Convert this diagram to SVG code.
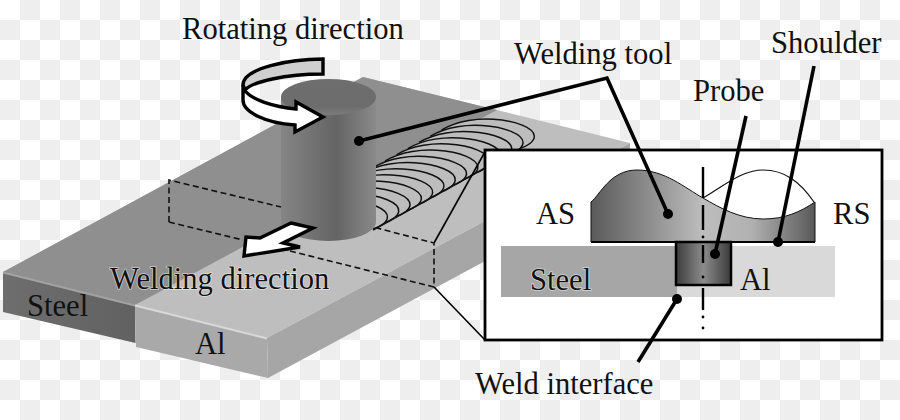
<svg xmlns="http://www.w3.org/2000/svg" width="900" height="420" viewBox="0 0 900 420">
  <defs>
    <pattern id="checker" width="40" height="40" patternUnits="userSpaceOnUse">
      <rect width="40" height="40" fill="#ffffff"/>
      <rect x="20" y="0" width="20" height="20" fill="#eeeeee"/>
      <rect x="0" y="20" width="20" height="20" fill="#eeeeee"/>
    </pattern>
    <linearGradient id="cylinderShade" x1="0" x2="1" y1="0" y2="0">
      <stop offset="0" stop-color="#858585"/>
      <stop offset="0.58" stop-color="#646464"/>
      <stop offset="1" stop-color="#8a8a8a"/>
    </linearGradient>
    <linearGradient id="capShade" x1="0" x2="0" y1="0" y2="1">
      <stop offset="0" stop-color="#6e6e6e"/>
      <stop offset="0.75" stop-color="#6c6c6c"/>
      <stop offset="1" stop-color="#7c7c7c"/>
    </linearGradient>
    <linearGradient id="shoulderShade" gradientUnits="userSpaceOnUse" x1="591" x2="815" y1="0" y2="0">
      <stop offset="0" stop-color="#5a5a5a"/>
      <stop offset="0.5" stop-color="#bdbdbd"/>
      <stop offset="0.72" stop-color="#b0b0b0"/>
      <stop offset="1" stop-color="#595959"/>
    </linearGradient>
    <linearGradient id="probeShade" x1="0" x2="1" y1="0" y2="0">
      <stop offset="0" stop-color="#3c3c3c"/>
      <stop offset="0.5" stop-color="#8c8c8c"/>
      <stop offset="1" stop-color="#3a3a3a"/>
    </linearGradient>
    <linearGradient id="steelFront" x1="0" x2="1" y1="0" y2="0">
      <stop offset="0" stop-color="#6e6e6e"/>
      <stop offset="1" stop-color="#616161"/>
    </linearGradient>
    <path id="bead" d="M441.7 130C458.3 120 480 118.3 493.3 119.3C516.7 120.7 535 128.3 534.3 136.7C534 141.7 526.7 146.7 520 148.3"/>
  </defs>
  <style>
    text { font-family: "Liberation Serif", "Times New Roman", serif; font-size: 30.6px; fill: #111111; }
    .halo { paint-order: stroke; stroke: #ffffff; stroke-opacity: 0.55; stroke-width: 1.6px; }
    .lead { fill: none; stroke: #000000; stroke-width: 3.6; stroke-linejoin: miter; }
    .thin { fill: none; stroke: #000000; stroke-width: 1.6; }
    .dash { fill: none; stroke: #111111; stroke-width: 1.6; stroke-dasharray: 6 3.5; }
    .dot { fill: #000000; }
    .arrow { fill: #ffffff; stroke: #000000; stroke-width: 3.4; stroke-linejoin: miter; }
    .bead { fill: #bdbdbd; stroke: #111111; stroke-width: 1.5; }
  </style>

  <rect width="900" height="420" fill="url(#checker)"/>

  <!-- Joined plates -->
  <g id="plate">
    <polygon points="3,272 363,77 630,143 267,338 135,305" fill="#bebebe"/>
    <polygon points="3,272 363,77 497,110 135,305" fill="#8f8f8f"/>
    <polygon points="267,338 630,143 630,183 268,378" fill="#a6a6a6"/>
    <polygon points="135,305 267,338 268,378 136,347" fill="#a9a9a9"/>
    <polygon points="3,272 135,305 135.500,343 3,312" fill="url(#steelFront)"/>
    <path d="M3 272.500L135 305.500" fill="none" stroke="#a2a2a2" stroke-width="2"/>
    <path d="M135 305.500L267 338.500" fill="none" stroke="#d8d8d8" stroke-width="2"/>
  </g>

  <!-- Weld bead ripples, drawn from the far end towards the tool -->
  <g id="weld">
    <use href="#bead" class="bead"/>
    <use href="#bead" class="bead" transform="translate(-11.3 6.2)"/>
    <use href="#bead" class="bead" transform="translate(-22.6 12.4)"/>
    <use href="#bead" class="bead" transform="translate(-33.9 18.600)"/>
    <use href="#bead" class="bead" transform="translate(-45.2 24.8)"/>
    <use href="#bead" class="bead" transform="translate(-56.5 31)"/>
    <use href="#bead" class="bead" transform="translate(-67.8 37.2)"/>
    <use href="#bead" class="bead" transform="translate(-79.1 43.4)"/>
    <use href="#bead" class="bead" transform="translate(-90.4 49.6)"/>
    <use href="#bead" class="bead" transform="translate(-101.7 55.8)"/>
    <use href="#bead" class="bead" transform="translate(-113 62)"/>
    <use href="#bead" class="bead" transform="translate(-124.3 68.2)"/>
    <use href="#bead" class="bead" transform="translate(-135.6 74.4)"/>
    <use href="#bead" class="bead" transform="translate(-146.900 80.6)"/>
    <path d="M373 230L485 168" fill="none" stroke="#111111" stroke-width="1.5"/>
  </g>

  <!-- Cut plane through the weld -->
  <g id="section-plane">
    <path class="dash" d="M169 222V180L281 207"/>
    <path class="dash" d="M169 222L243 240M290 251L434 287V243L377 228"/>
  </g>

  <!-- Rotating tool -->
  <g id="tool">
    <path d="M281 97V222A47.500 19 0 0 0 376 222V97Z" fill="url(#cylinderShade)"/>
    <ellipse cx="328.500" cy="97" rx="47.500" ry="18" fill="url(#capShade)"/>
  </g>

  <g id="rotation-arrow">
    <path class="arrow" d="M244 89C250 100 275 107 296 109V102L323 117L295 132V125C265 123 243 112 243 100V85Z"/>
    <path class="arrow" style="fill:#cfcfcf" d="M323 59C290 59 243 68 243 85L245 90C252 82 285 74 323 74Z"/>
  </g>

  <g id="welding-arrow">
    <polygon class="arrow" points="291,223 313,228 283,243 300,247 244,256 246,237 260,238"/>
  </g>

  <!-- Enlarged cross-section -->
  <g id="inset">
    <rect x="485" y="150" width="397" height="190" fill="#ffffff" stroke="#000000" stroke-width="2.800"/>
    <rect x="501" y="246" width="176" height="51" fill="#a6a6a6"/>
    <rect x="677" y="246" width="158" height="51" fill="#d9d9d9"/>
    <path d="M703 198C725 185 742 170 763 170C785 170 800 182 814 202" fill="#ffffff" stroke="#111111" stroke-width="1.2"/>
    <path d="M591 242V202C600 195 610 170 637 170C665 170 685 188 703 198C720 208 740 219 763 219C785 219 800 212 815 202V242Z" fill="url(#shoulderShade)" stroke="#111111" stroke-width="1"/>
    <path d="M591 242H815" stroke="#000000" stroke-width="2" fill="none"/>
    <rect x="676" y="242" width="55" height="43" fill="url(#probeShade)" stroke="#000000" stroke-width="2.500"/>
    <path d="M703 167V198M703 205V230M703 245V263M703 288V310" stroke="#000000" stroke-width="2.400" fill="none"/>
    <circle class="dot" cx="703" cy="237" r="1.400"/>
    <circle class="dot" cx="703" cy="277" r="1.400"/>
    <circle class="dot" cx="703" cy="317" r="1.400"/>
    <circle class="dot" cx="703" cy="328" r="1.400"/>
  </g>

  <!-- Leaders and projection lines -->
  <g id="connectors">
    <path class="thin" d="M434 243L486 150"/>
    <path class="thin" d="M434 287L485 340"/>
    <path class="lead" d="M359 141L607 78L668 214"/>
    <path class="lead" d="M746 116L715 254"/>
    <path class="lead" d="M814 66L778 242"/>
    <path class="lead" d="M677 299L638 362"/>
    <circle class="dot" cx="359" cy="141" r="5"/>
    <circle class="dot" cx="668" cy="214" r="5"/>
    <circle class="dot" cx="715" cy="254" r="5"/>
    <circle class="dot" cx="778" cy="242" r="5"/>
    <circle class="dot" cx="677" cy="299" r="5"/>
  </g>

  <g id="labels">
    <text x="182" y="39">Rotating direction</text>
    <text x="514" y="64">Welding tool</text>
    <text x="771" y="53">Shoulder</text>
    <text x="693" y="101">Probe</text>
    <text x="536" y="224">AS</text>
    <text x="833" y="224">RS</text>
    <text class="halo" x="530" y="290">Steel</text>
    <text x="740" y="290">Al</text>
    <text x="475" y="394">Weld interface</text>
    <text class="halo" x="110" y="289">Welding direction</text>
    <text x="27" y="316">Steel</text>
    <text x="195" y="354">Al</text>
  </g>
</svg>
